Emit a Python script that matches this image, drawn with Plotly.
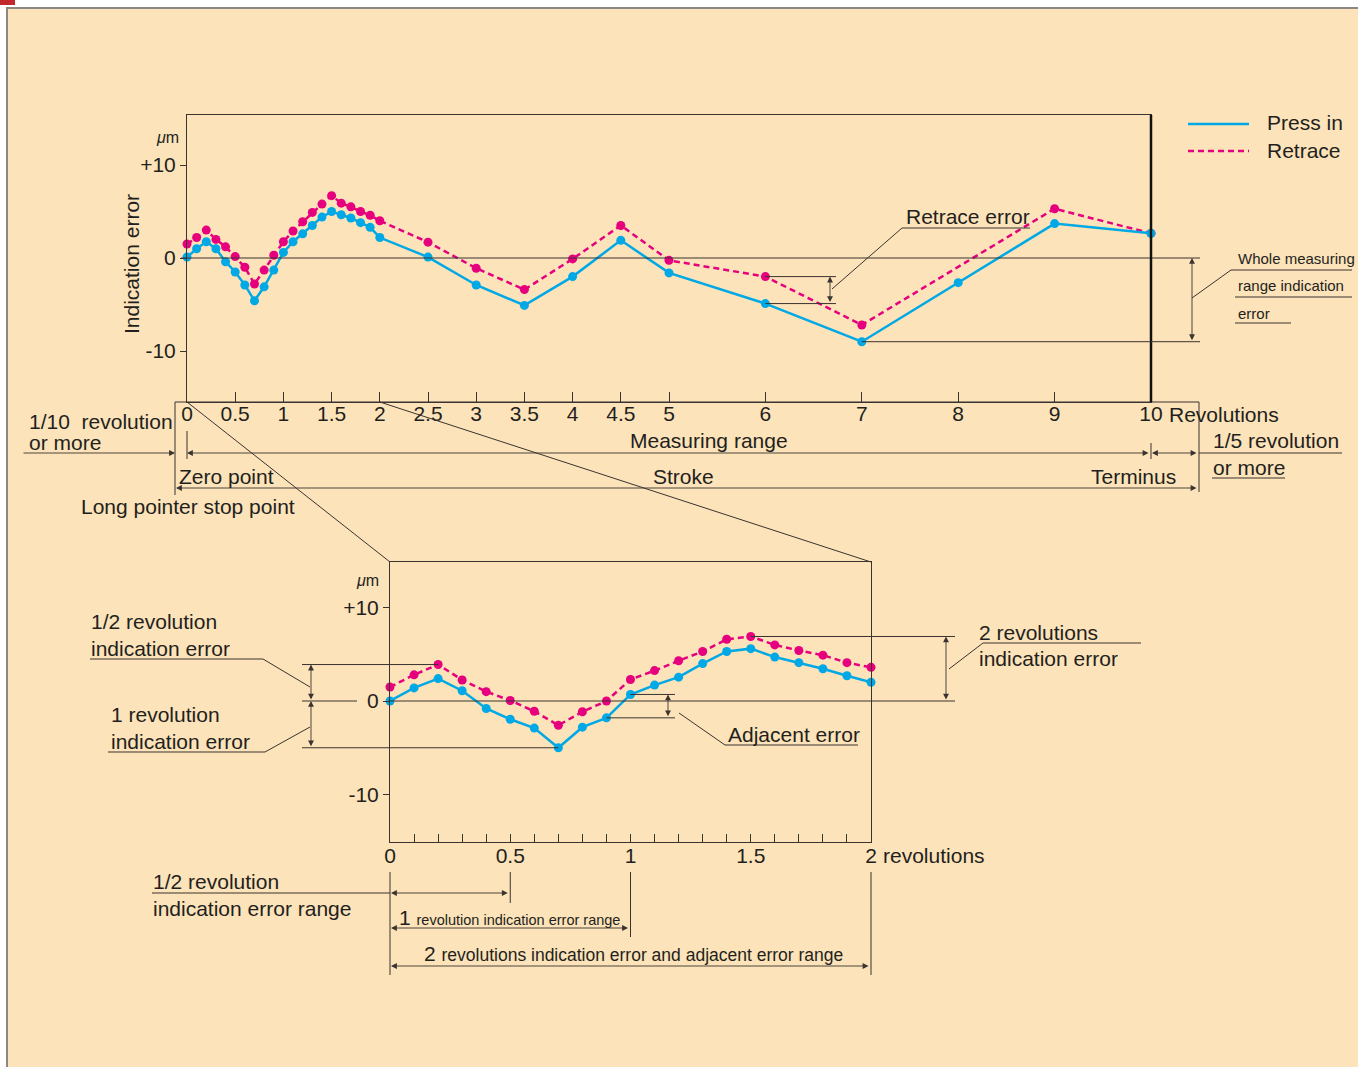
import plotly.graph_objects as go

W, H = 1358, 1067

# upper chart: whole measuring range (revolutions)
upper_x = [0, 0.1, 0.2, 0.3, 0.4, 0.5, 0.6, 0.7, 0.8, 0.9, 1.0, 1.1, 1.2, 1.3, 1.4, 1.5,
           1.6, 1.7, 1.8, 1.9, 2.0, 2.5, 3, 3.5, 4, 4.5, 5, 6, 7, 8, 9, 10]
press_upper = [0.1, 1.0, 1.75, 1.0, -0.4, -1.5, -2.9, -4.6, -3.1, -1.3, 0.6, 1.75, 2.6, 3.5,
               4.4, 5.0, 4.65, 4.3, 3.8, 3.3, 2.2, 0.1, -2.9, -5.1, -2.0, 1.9, -1.6, -4.9,
               -9.0, -2.65, 3.7, 2.65]
retrace_x = [0, 0.1, 0.2, 0.3, 0.4, 0.5, 0.6, 0.7, 0.8, 0.9, 1.0, 1.1, 1.2, 1.3, 1.4, 1.5,
             1.6, 1.7, 1.8, 1.9, 2.0, 2.5, 3, 3.5, 4, 4.5, 5, 6, 7, 9, 10]
retrace_upper = [1.5, 2.2, 3.0, 2.0, 1.2, 0.15, -1.0, -2.8, -1.3, 0.3, 1.75, 2.9, 3.9, 4.9,
                 5.8, 6.7, 5.9, 5.5, 5.0, 4.6, 4.0, 1.7, -1.1, -3.4, -0.1, 3.5, -0.25, -2.0,
                 -7.2, 5.3, 2.65]
upper_ticks = [0, 0.5, 1, 1.5, 2, 2.5, 3, 3.5, 4, 4.5, 5, 6, 7, 8, 9, 10]
upper_ticktext = ['0', '0.5', '1', '1.5', '2', '2.5', '3', '3.5', '4', '4.5', '5',
                  '6', '7', '8', '9', '10']

# lower chart: first 2 revolutions enlarged
lower_x = [0, 0.1, 0.2, 0.3, 0.4, 0.5, 0.6, 0.7, 0.8, 0.9, 1.0, 1.1, 1.2, 1.3, 1.4, 1.5,
           1.6, 1.7, 1.8, 1.9, 2.0]
press_lower = [0, 1.4, 2.4, 1.1, -0.8, -1.95, -2.9, -5.0, -2.8, -1.8, 0.7, 1.7, 2.55, 4.0,
               5.3, 5.6, 4.7, 4.1, 3.45, 2.7, 2.0]
retrace_lower = [1.5, 2.8, 3.9, 2.25, 1.0, 0.05, -1.1, -2.6, -1.15, 0.0, 2.3, 3.25, 4.3, 5.3,
                 6.6, 6.9, 6.0, 5.4, 4.9, 4.1, 3.6]
lower_ticktext = ['0', '', '', '', '', '0.5', '', '', '', '', '1', '', '', '', '', '1.5',
                  '', '', '', '', '2']

y_ticks = [-10, 0, 10]
y_ticktext = ['-10', '0', '+10']

BLUE = '#00a9e6'
PINK = '#e6007e'
LC = '#3a3330'
TC = '#231f20'
BG = '#fce3b9'
FONT = 'Liberation Sans, Arial, Helvetica, sans-serif'
FS = 21

# pixel geometry of the two plot boxes
U_L, U_R, U_T, U_B, U_ZERO, U_SC = 187, 1151, 115, 402, 258, 9.3
L_L, L_R, L_T, L_B, L_ZERO, L_SC = 390, 871, 562, 842, 701, 9.35


def fx(p):
    return p / W


def fy(p):
    return 1 - p / H


def upy(v):  # upper value -> pixel y
    return U_ZERO - v * U_SC


def upx(r):
    return U_L + r * (U_R - U_L) / 10


def lpy(v):
    return L_ZERO - v * L_SC


def lpx(r):
    return L_L + r * (L_R - L_L) / 2


shapes = []
anns = []


def line(x0, y0, x1, y1, color=LC, width=1, dash=None):
    shapes.append(dict(type='line', xref='paper', yref='paper', x0=fx(x0), y0=fy(y0),
                       x1=fx(x1), y1=fy(y1),
                       line=dict(color=color, width=width, dash=dash)))


def arrow(x0, y0, x1, y1, both=True):
    # head at (x0, y0), tail at (x1, y1)
    anns.append(dict(xref='paper', yref='paper', x=fx(x0), y=fy(y0), axref='pixel',
                     ayref='pixel', ax=x1 - x0, ay=y1 - y0, text='', showarrow=True,
                     arrowhead=2, arrowsize=1.3, arrowwidth=0.9, arrowcolor=LC,
                     arrowside='end+start' if both else 'end', standoff=0, startstandoff=0,
                     font=dict(size=1)))


def txt(x, y, s, size=FS, anchor='left', angle=0):
    anns.append(dict(xref='paper', yref='paper', x=fx(x), y=fy(y), text=s, showarrow=False,
                     xanchor=anchor, yanchor='middle', textangle=angle,
                     font=dict(family=FONT, size=size, color=TC)))


# page frame
shapes.append(dict(type='rect', xref='paper', yref='paper', x0=fx(7), y0=fy(1075), x1=fx(1365),
                    y1=fy(8), fillcolor=BG, line=dict(color='#8c8782', width=2), layer='below'))
shapes.append(dict(type='rect', xref='paper', yref='paper', x0=0, y0=fy(5), x1=fx(15), y1=1,
                    fillcolor='#c1272d', line=dict(width=0), layer='below'))

# ---- upper chart extras
line(181, upy(0), 1200, upy(0))
line(175, U_B, 1199, U_B)
line(U_R, U_T, U_R, U_B, color='#111', width=2.5)

# retrace error at 6 revolutions
i6 = upper_x.index(6)
j6 = retrace_x.index(6)
line(upx(6), upy(retrace_upper[j6]), 836, upy(retrace_upper[j6]))
line(upx(6), upy(press_upper[i6]), 836, upy(press_upper[i6]))
arrow(830, upy(retrace_upper[j6]), 830, upy(press_upper[i6]))
line(832, 289, 902, 228)
line(902, 228, 1030, 228)
txt(904, 216, 'Retrace error')

# whole measuring range indication error
umin = min(press_upper)
line(upx(upper_x[press_upper.index(umin)]), upy(umin), 1200, upy(umin))
arrow(1192, upy(0), 1192, upy(umin))
line(1192, 298, 1231, 270)
line(1231, 270, 1352, 270)
line(1235, 297, 1352, 297)
line(1235, 323, 1291, 323)
txt(1236, 258, 'Whole measuring', 15)
txt(1236, 286, 'range indication', 15)
txt(1236, 313, 'error', 15)

# legend
line(1188, 124, 1249, 124, color=BLUE, width=2.5)
line(1188, 151, 1249, 151, color=PINK, width=2.5, dash='6px,4px')
txt(1265, 122, 'Press in')
txt(1265, 151, 'Retrace')

# axis texts
txt(167, 137, '<i>μ</i>m', 16, 'center')
txt(131, 264, 'Indication error', FS, 'center', -90)
txt(1167, 414, 'Revolutions')
txt(709, 441, 'Measuring range', FS, 'center')

# dimension lines below upper chart
line(175, U_B, 175, 495)
line(187, 431, 187, 459)
line(1151, 443, 1151, 459)
line(1199, U_B, 1199, 492)
arrow(175, 453, 22, 453, both=False)
arrow(187, 453, 1150, 453)
arrow(1152, 453, 1198, 453)
line(1199, 453, 1342, 453)
arrow(176, 488, 1198, 488)
line(1212, 478, 1285, 478)
txt(27, 421, '1/10  revolution')
txt(27, 442, 'or more')
txt(1211, 441, '1/5 revolution')
txt(1211, 467, 'or more')
txt(177, 476, 'Zero point')
txt(683, 476, 'Stroke', FS, 'center')
txt(1089, 476, 'Terminus')
txt(79, 507, 'Long pointer stop point')

# zoom lines
line(U_L, U_B, L_L, L_T)
line(upx(2), U_B, L_R, L_T)

# ---- lower chart extras
line(302, lpy(0), 357, lpy(0))
line(L_L, lpy(0), 955, lpy(0))

# 1/2 revolution indication error
half_max = max(retrace_lower[:6])
hx = lower_x[retrace_lower.index(half_max)]
line(302, lpy(half_max), lpx(hx), lpy(half_max))
arrow(311, lpy(half_max), 311, lpy(0))
line(310, 687, 263, 659)
line(263, 659, 90, 659)
txt(89, 621, '1/2 revolution')
txt(89, 648, 'indication error')

# 1 revolution indication error
one_min = min(press_lower[:11])
mx = lower_x[press_lower.index(one_min)]
line(302, lpy(one_min), lpx(mx), lpy(one_min))
arrow(311, lpy(0), 311, lpy(one_min))
line(310, 727, 265, 752)
line(265, 752, 108, 752)
txt(109, 714, '1 revolution')
txt(109, 741, 'indication error')

# adjacent error
a1, a0 = press_lower[10], press_lower[9]
line(lpx(1.0), lpy(a1), 675, lpy(a1))
line(lpx(0.9), lpy(a0), 675, lpy(a0))
arrow(668, lpy(a1), 668, lpy(a0))
line(679, 713, 725, 745)
line(725, 745, 858, 745)
txt(726, 734, 'Adjacent error')

# 2 revolutions indication error
two_max = max(retrace_lower)
tx = lower_x[retrace_lower.index(two_max)]
line(lpx(tx), lpy(two_max), 955, lpy(two_max))
arrow(946, lpy(two_max), 946, lpy(0))
line(949, 669, 983, 643)
line(983, 643, 1141, 643)
txt(977, 632, '2 revolutions')
txt(977, 658, 'indication error')

txt(367, 580, '<i>μ</i>m', 16, 'center')
txt(881, 856, 'revolutions')

# ranges below lower chart
line(L_L, 872, L_L, 975)
line(lpx(0.5), 872, lpx(0.5), 903)
line(lpx(1), 872, lpx(1), 937)
line(L_R, 872, L_R, 975)
line(152, 893, L_L, 893)
arrow(L_L + 1, 893, lpx(0.5) - 1, 893)
arrow(L_L + 1, 928, lpx(1) - 1, 928)
arrow(L_L + 1, 966, L_R - 1, 966)
txt(151, 881, '1/2 revolution')
txt(151, 908, 'indication error range')
txt(397, 917, '1 <span style="font-size:14.5px">revolution indication error range</span>')
txt(422, 953, '2 <span style="font-size:17.5px">revolutions indication error and adjacent error range</span>')

fig = go.Figure()
fig.add_trace(go.Scatter(x=retrace_x, y=retrace_upper, mode='lines+markers', name='Retrace',
                         line=dict(color=PINK, width=2.5, dash='6px,4px'),
                         marker=dict(size=9, color=PINK), cliponaxis=False))
fig.add_trace(go.Scatter(x=upper_x, y=press_upper, mode='lines+markers', name='Press in',
                         line=dict(color=BLUE, width=2.5),
                         marker=dict(size=9, color=BLUE), cliponaxis=False))
fig.add_trace(go.Scatter(x=lower_x, y=retrace_lower, mode='lines+markers', name='Retrace',
                         xaxis='x2', yaxis='y2',
                         line=dict(color=PINK, width=2.5, dash='6px,4px'),
                         marker=dict(size=9, color=PINK), cliponaxis=False))
fig.add_trace(go.Scatter(x=lower_x, y=press_lower, mode='lines+markers', name='Press in',
                         xaxis='x2', yaxis='y2',
                         line=dict(color=BLUE, width=2.5),
                         marker=dict(size=9, color=BLUE), cliponaxis=False))

axis_common = dict(showgrid=False, zeroline=False, showline=True, mirror=True, linecolor=LC,
                   linewidth=1, tickcolor=LC, tickwidth=1, automargin=False,
                   tickfont=dict(family=FONT, size=FS, color=TC))

fig.update_layout(
    width=W, height=H,
    margin=dict(l=0, r=0, t=0, b=0, pad=0, autoexpand=False),
    paper_bgcolor='white',
    plot_bgcolor='rgba(0,0,0,0)',
    showlegend=False,
    xaxis=dict(domain=[fx(U_L), fx(U_R)], range=[0, 10], anchor='y', tickmode='array',
               tickvals=upper_ticks, ticktext=upper_ticktext, ticks='inside', ticklen=10,
               ticklabelstandoff=-7, **axis_common),
    yaxis=dict(domain=[fy(U_B), fy(U_T)], anchor='x',
               range=[-(U_B - U_ZERO) / U_SC, (U_ZERO - U_T) / U_SC],
               tickmode='array', tickvals=y_ticks, ticktext=y_ticktext, ticks='outside',
               ticklen=6, **axis_common),
    xaxis2=dict(domain=[fx(L_L), fx(L_R)], range=[0, 2], anchor='y2', tickmode='array',
                tickvals=lower_x, ticktext=lower_ticktext, ticks='inside', ticklen=8,
                ticklabelstandoff=-5, **axis_common),
    yaxis2=dict(domain=[fy(L_B), fy(L_T)], anchor='x2',
                range=[-(L_B - L_ZERO) / L_SC, (L_ZERO - L_T) / L_SC],
                tickmode='array', tickvals=y_ticks, ticktext=y_ticktext, ticks='outside',
                ticklen=6, **axis_common),
    shapes=shapes,
    annotations=anns,
)

fig.write_html("out.html", config={'responsive': False, 'displayModeBar': False},
               post_script="document.body.style.margin='0';document.body.style.overflow='hidden';")
